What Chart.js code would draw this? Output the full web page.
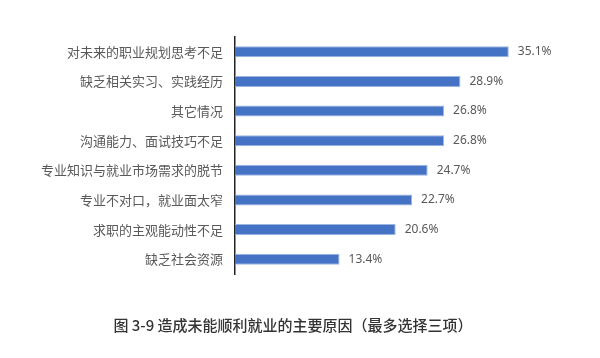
<!DOCTYPE html>
<html><head><meta charset="utf-8">
<script src="https://cdn.jsdelivr.net/npm/chart.js@4.4.1/dist/chart.umd.min.js"></script>
<style>html,body{margin:0;padding:0;background:#fff}#w{width:600px;height:358px}</style>
</head><body><div id="w"><canvas id="c"></canvas></div>
<script>
const categories = ["对未来的职业规划思考不足","缺乏相关实习、实践经历","其它情况","沟通能力、面试技巧不足","专业知识与就业市场需求的脱节","专业不对口，就业面太窄","求职的主观能动性不足","缺乏社会资源"];
const values = [35.1, 28.9, 26.8, 26.8, 24.7, 22.7, 20.6, 13.4];
const titleText = "图 3-9 造成未能顺利就业的主要原因（最多选择三项）";

const valueLabels = {
  id: 'valueLabels',
  afterDatasetsDraw(chart) {
    const ctx = chart.ctx;
    const meta = chart.getDatasetMeta(0);
    ctx.save();
    ctx.font = '12px "Noto Sans", "Noto Sans CJK SC", sans-serif';
    ctx.fillStyle = '#595959';
    ctx.textAlign = 'left';
    ctx.textBaseline = 'middle';
    meta.data.forEach((el, i) => {
      ctx.fillText(values[i].toFixed(1) + '%', el.x + 9, el.y);
    });
    ctx.restore();
  }
};

new Chart(document.getElementById('c'), {
  type: 'bar',
  data: {
    labels: categories,
    datasets: [{
      data: values,
      backgroundColor: '#4472C4',
      borderColor: '#9BB5E3',
      borderWidth: 1,
      borderSkipped: 'left',
      barPercentage: 0.74,
      categoryPercentage: 0.5
    }]
  },
  options: {
    indexAxis: 'y',
    responsive: true,
    maintainAspectRatio: false,
    animation: false,
    layout: { padding: { top: 37, right: 14, left: 0, bottom: 24 } },
    plugins: {
      legend: { display: false },
      tooltip: { enabled: false },
      title: {
        display: true,
        position: 'bottom',
        text: titleText,
        color: '#333333',
        font: { family: '"Noto Sans CJK SC", sans-serif', size: 15, weight: '500', lineHeight: 1.2 },
        padding: { top: 42, bottom: 0 }
      }
    },
    scales: {
      x: { display: false, min: 0, max: 45 },
      y: {
        afterFit(scale) { scale.width = 235; },
        grid: { display: false, drawTicks: false },
        border: { display: true, color: '#222222', width: 1.5 },
        ticks: {
          color: '#595959',
          padding: 12,
          font: { family: '"Noto Sans CJK SC", sans-serif', size: 13 }
        }
      }
    }
  },
  plugins: [valueLabels]
});
</script>
</body></html>
